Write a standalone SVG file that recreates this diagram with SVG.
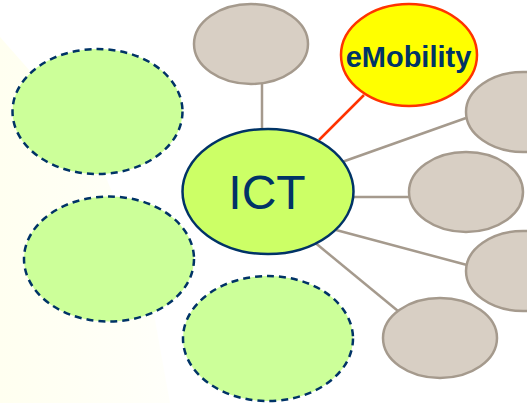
<svg xmlns="http://www.w3.org/2000/svg" width="527" height="403" viewBox="0 0 527 403">
<style>
.gray{fill:#d8cfc4;stroke:#a59a8d;stroke-width:2.500}
.dash{fill:#ccff99;stroke:#003366;stroke-width:2.500;stroke-dasharray:7 5}
.link{stroke:#a59a8d;stroke-width:2.500;fill:none}
text{font-family:"Liberation Sans",Arial,sans-serif;fill:#003366;text-anchor:middle}
</style>
<defs>
<linearGradient id="bg" x1="0" y1="0" x2="1" y2="0">
<stop offset="0" stop-color="#fffff0"/>
<stop offset="1" stop-color="#fffffa"/>
</linearGradient>
</defs>
<rect width="527" height="403" fill="#ffffff"/>
<path d="M0 37L60 105L105 175L140 260L155 320L170 403L0 403Z" fill="url(#bg)"/>
<g id="connectors">
<line class="link" x1="262" y1="83" x2="262" y2="130"/>
<line x1="364" y1="95" x2="319" y2="140" stroke="#ff3300" stroke-width="2.500"/>
<line class="link" x1="466" y1="118" x2="342" y2="162"/>
<line class="link" x1="353" y1="197" x2="410" y2="197"/>
<line class="link" x1="336" y1="230" x2="467" y2="265"/>
<line class="link" x1="313" y1="241" x2="398" y2="311"/>
</g>
<g id="node-top"><ellipse class="gray" cx="251" cy="44" rx="57" ry="40"/></g>
<g id="node-emobility"><ellipse cx="409" cy="55" rx="68" ry="51" fill="#ffff00" stroke="#ff3300" stroke-width="2.500"/><text x="408.500" y="67" font-size="29" font-weight="bold">eMobility</text></g>
<g id="node-right1"><ellipse class="gray" cx="523" cy="112" rx="57" ry="40"/></g>
<g id="node-right2"><ellipse class="gray" cx="466" cy="192" rx="57" ry="40"/></g>
<g id="node-right3"><ellipse class="gray" cx="523" cy="271" rx="57" ry="40"/></g>
<g id="node-bottom-right"><ellipse class="gray" cx="440" cy="338" rx="57" ry="40"/></g>
<g id="node-ict"><ellipse cx="268" cy="191.500" rx="85.500" ry="62.500" fill="#ccff66" stroke="#003366" stroke-width="2.500"/><text x="267" y="209" font-size="48">ICT</text></g>
<g id="node-dash1"><ellipse class="dash" cx="97.500" cy="111.500" rx="85" ry="62.500"/></g>
<g id="node-dash2"><ellipse class="dash" cx="109" cy="259" rx="85" ry="62.500"/></g>
<g id="node-dash3"><ellipse class="dash" cx="268" cy="338.500" rx="85" ry="62.500"/></g>
</svg>
